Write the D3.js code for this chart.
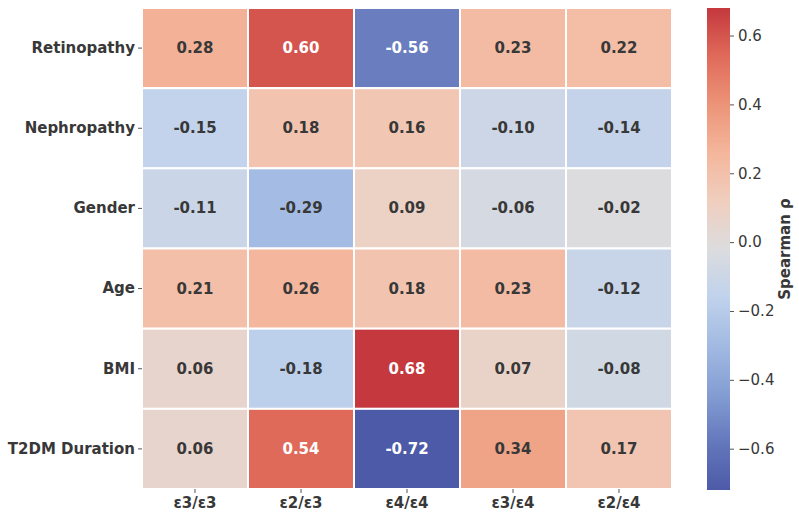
<!DOCTYPE html>
<html>
<head>
<meta charset="utf-8">
<script src="https://cdn.jsdelivr.net/npm/d3@7"></script>
<style>
  body { margin: 0; background: #fff; }
  text { font-family: "DejaVu Sans", sans-serif; }
</style>
</head>
<body>
<div id="chart"></div>
<script>
// rows / columns / spearman values
const rows = ["Retinopathy", "Nephropathy", "Gender", "Age", "BMI", "T2DM Duration"];
const cols = ["ε3/ε3", "ε2/ε3", "ε4/ε4", "ε3/ε4", "ε2/ε4"];
const values = [
  [0.28, 0.60, -0.56, 0.23, 0.22],
  [-0.15, 0.18, 0.16, -0.10, -0.14],
  [-0.11, -0.29, 0.09, -0.06, -0.02],
  [0.21, 0.26, 0.18, 0.23, -0.12],
  [0.06, -0.18, 0.68, 0.07, -0.08],
  [0.06, 0.54, -0.72, 0.34, 0.17]
];
const cbarTicks = [-0.6, -0.4, -0.2, 0.0, 0.2, 0.4, 0.6];

// muted coolwarm-like ramp, low -> high
const ramp = ["#4d5aa8", "#6478bc", "#849ed4", "#a2bae2", "#c0d2ec", "#dcdcde",
              "#f0cebe", "#f4b69c", "#ec9478", "#e06a5a", "#c4383e"];

const width = 799, height = 515;
const hm = { left: 142, top: 8, width: 530, height: 481 };
const cb = { left: 707, width: 23 };

const svg = d3.select("#chart").append("svg")
  .attr("width", width)
  .attr("height", height);

const flat = values.flat();
const [vmin, vmax] = d3.extent(flat);

const color = d3.scaleLinear()
  .domain(ramp.map((c, i) => vmin + (vmax - vmin) * i / (ramp.length - 1)))
  .range(ramp)
  .interpolate(d3.interpolateRgb)
  .clamp(true);

const x = d3.scaleBand().domain(cols).range([hm.left, hm.left + hm.width]);
const y = d3.scaleBand().domain(rows).range([hm.top, hm.top + hm.height]);

const cells = [];
rows.forEach((r, i) => cols.forEach((c, j) => cells.push({ r, c, v: values[i][j] })));

// white text on dark cells, dark text elsewhere
function lum(c) {
  const rgb = d3.rgb(c);
  const f = v => { v /= 255; return v <= 0.03928 ? v / 12.92 : Math.pow((v + 0.055) / 1.055, 2.4); };
  return 0.2126 * f(rgb.r) + 0.7152 * f(rgb.g) + 0.0722 * f(rgb.b);
}

const g = svg.append("g");

g.selectAll("rect.cell")
  .data(cells)
  .join("rect")
  .attr("class", "cell")
  .attr("x", d => x(d.c))
  .attr("y", d => y(d.r))
  .attr("width", x.bandwidth())
  .attr("height", y.bandwidth())
  .attr("fill", d => color(d.v))
  .attr("stroke", "#fff")
  .attr("stroke-width", 2);

g.selectAll("text.annot")
  .data(cells)
  .join("text")
  .attr("class", "annot")
  .attr("x", d => x(d.c) + x.bandwidth() / 2)
  .attr("y", d => y(d.r) + y.bandwidth() / 2)
  .attr("text-anchor", "middle")
  .attr("dominant-baseline", "central")
  .style("font-size", "15px")
  .style("font-weight", "bold")
  .attr("fill", d => lum(color(d.v)) > 0.3 ? "#383838" : "#fff")
  .text(d => d.v.toFixed(2));

// axes
const yAxis = svg.append("g")
  .attr("transform", `translate(${hm.left},0)`)
  .call(d3.axisLeft(y).tickSize(4).tickPadding(3));
const xAxis = svg.append("g")
  .attr("transform", `translate(0,${hm.top + hm.height})`)
  .call(d3.axisBottom(x).tickSize(4).tickPadding(4));

[yAxis, xAxis].forEach(a => {
  a.select(".domain").remove();
  a.selectAll(".tick line").attr("stroke", "#555");
  a.selectAll(".tick text")
    .attr("fill", "#383838")
    .style("font-size", "15px")
    .style("font-weight", "bold")
    .style("font-family", "DejaVu Sans");
});

// colorbar
const cy = d3.scaleLinear().domain([vmin, vmax]).range([hm.top + hm.height + 1, hm.top]);

const grad = svg.append("defs").append("linearGradient")
  .attr("id", "cbar")
  .attr("x1", 0).attr("y1", 1).attr("x2", 0).attr("y2", 0);
d3.range(0, 1.0001, 0.05).forEach(t => {
  grad.append("stop")
    .attr("offset", t)
    .attr("stop-color", color(vmin + (vmax - vmin) * t));
});

svg.append("rect")
  .attr("x", cb.left)
  .attr("y", cy(vmax))
  .attr("width", cb.width)
  .attr("height", cy(vmin) - cy(vmax))
  .attr("fill", "url(#cbar)");

const cAxis = svg.append("g")
  .attr("transform", `translate(${cb.left + cb.width},0)`)
  .call(d3.axisRight(cy).tickValues(cbarTicks).tickFormat(d3.format(".1f")).tickSize(4).tickPadding(4));
cAxis.select(".domain").remove();
cAxis.selectAll(".tick line").attr("stroke", "#555");
cAxis.selectAll(".tick text")
  .attr("fill", "#383838")
  .style("font-size", "15px")
  .style("font-family", "DejaVu Sans");

svg.append("text")
  .attr("transform", `translate(785,${(cy(vmin) + cy(vmax)) / 2}) rotate(-90)`)
  .attr("text-anchor", "middle")
  .attr("dominant-baseline", "central")
  .attr("fill", "#383838")
  .style("font-size", "15px")
  .style("font-weight", "bold")
  .text("Spearman ρ");
</script>
</body>
</html>
